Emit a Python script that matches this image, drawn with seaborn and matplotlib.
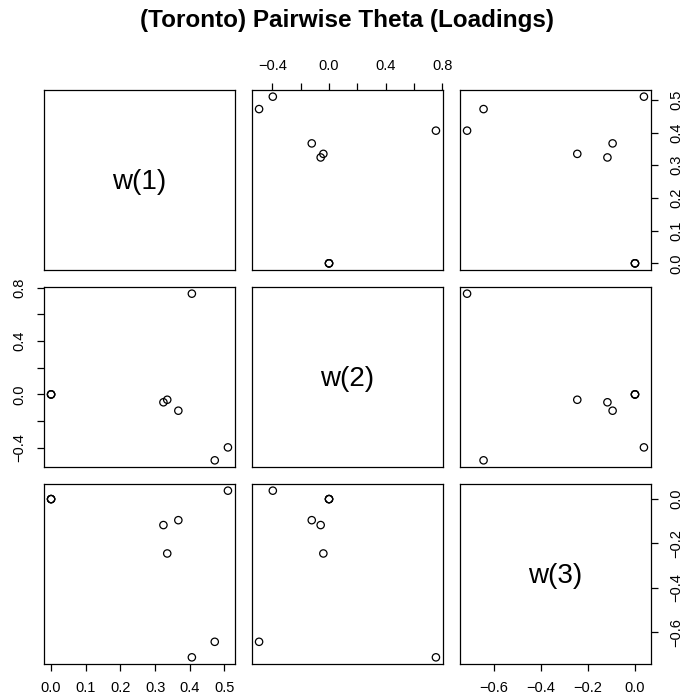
import numpy as np
import pandas as pd
import seaborn as sns
import matplotlib.pyplot as plt

# data (three loadings per item)
w1 = [0.472, 0.510, 0.406, 0.367, 0.335, 0.324, 0.0, 0.0, 0.0]
w2 = [-0.494, -0.397, 0.755, -0.122, -0.040, -0.059, 0.0, 0.0, 0.0]
w3 = [-0.643, 0.038, -0.713, -0.095, -0.245, -0.117, 0.0, 0.0, 0.0]
var_names = ["w(1)", "w(2)", "w(3)"]
title = "(Toronto) Pairwise Theta (Loadings)"

ticks = {
    "w(1)": [0.0, 0.1, 0.2, 0.3, 0.4, 0.5],
    "w(2)": [-0.4, -0.2, 0.0, 0.2, 0.4, 0.6, 0.8],
    "w(3)": [-0.6, -0.4, -0.2, 0.0],
}
labelled = {
    "w(1)": [0.0, 0.1, 0.2, 0.3, 0.4, 0.5],
    "w(2)": [-0.4, 0.0, 0.4, 0.8],
    "w(3)": [-0.6, -0.4, -0.2, 0.0],
}

df = pd.DataFrame({"w(1)": w1, "w(2)": w2, "w(3)": w3})

sns.set_theme(style="white")
plt.rcParams['font.family'] = ['Liberation Sans', 'DejaVu Sans']
plt.rcParams['axes.unicode_minus'] = True

W, H = 695, 697
fig = plt.figure(figsize=(W / 100, H / 100), dpi=100)

col_x = [44, 252, 460]
row_y = [90, 287, 484]
pw, ph = 191, 180
TICK_FS = 10.5

lims = {}
for n in var_names:
    lo, hi = df[n].min(), df[n].max()
    r = hi - lo
    lims[n] = (lo - 0.04 * r, hi + 0.04 * r)


def fmt(v, n):
    if v in labelled[n]:
        s = f"{v:.1f}"
        return s.replace("-", "\u2212")
    return ""


axes = {}
for i, yn in enumerate(var_names):
    for j, xn in enumerate(var_names):
        ax = fig.add_axes([col_x[j] / W, 1 - (row_y[i] + ph) / H, pw / W, ph / H])
        axes[(i, j)] = ax
        if i == j:
            ax.text(0.5, 0.49, xn, transform=ax.transAxes, ha="center", va="center",
                    fontsize=20, color="black")
        else:
            sns.scatterplot(data=df, x=xn, y=yn, ax=ax, facecolors="none",
                            edgecolor="black", s=28, linewidth=0.9, marker="o")
        ax.set_xlim(lims[xn])
        ax.set_ylim(lims[yn])
        ax.set_xlabel("")
        ax.set_ylabel("")
        for sp in ax.spines.values():
            sp.set_visible(True)
            sp.set_color("black")
            sp.set_linewidth(0.9)
        ax.set_xticks([])
        ax.set_yticks([])
        ax.set_facecolor("white")


def set_x(ax, n, side):
    ax.set_xticks(ticks[n])
    ax.set_xticklabels([fmt(v, n) for v in ticks[n]])
    if side == "top":
        ax.xaxis.tick_top()
    ax.tick_params(axis="x", which="both", direction="out", length=5, width=0.9,
                   color="black", labelsize=TICK_FS, pad=7, labelcolor="black",
                   bottom=(side == "bottom"), top=(side == "top"),
                   labelbottom=(side == "bottom"), labeltop=(side == "top"))


def set_y(ax, n, side):
    ax.set_yticks(ticks[n])
    ax.set_yticklabels([fmt(v, n) for v in ticks[n]], rotation=90, va="center")
    if side == "right":
        ax.yaxis.tick_right()
    ax.tick_params(axis="y", which="both", direction="out", length=5, width=0.9,
                   color="black", labelsize=TICK_FS, pad=8, labelcolor="black",
                   left=(side == "left"), right=(side == "right"),
                   labelleft=(side == "left"), labelright=(side == "right"))


set_x(axes[(0, 1)], "w(2)", "top")
set_y(axes[(0, 2)], "w(1)", "right")
set_y(axes[(1, 0)], "w(2)", "left")
set_x(axes[(2, 0)], "w(1)", "bottom")
set_x(axes[(2, 2)], "w(3)", "bottom")
set_y(axes[(2, 2)], "w(3)", "right")

fig.text(0.5, 1 - 20 / H, title, ha="center", va="center", fontsize=17.5,
         fontweight="bold", color="black")

fig.savefig("out.png", dpi=100, facecolor="white")
